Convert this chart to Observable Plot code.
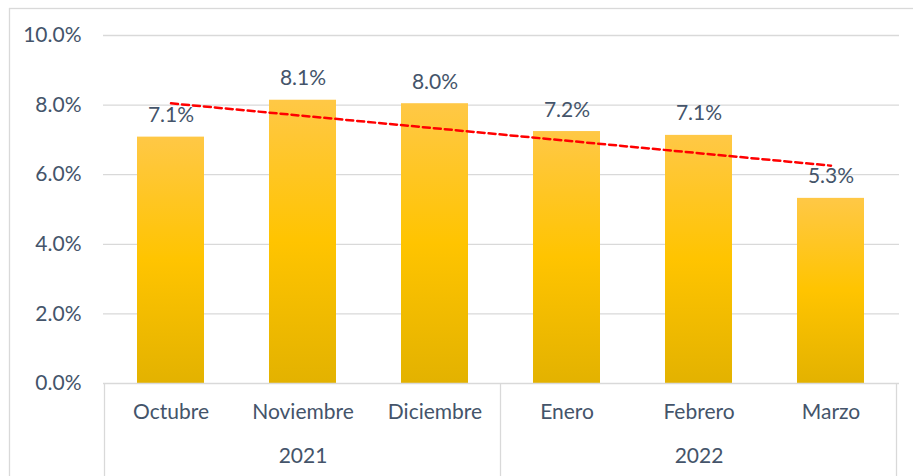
<!DOCTYPE html>
<html>
<head>
<meta charset="utf-8">
<script src="https://cdn.jsdelivr.net/npm/d3@7"></script>
<script src="https://cdn.jsdelivr.net/npm/@observablehq/plot@0.6"></script>
<style>
  html, body { margin: 0; padding: 0; background: #fff; }
  #chart svg { display: block; }
</style>
</head>
<body>
<div id="chart"></div>
<script>
const months = ["Octubre", "Noviembre", "Diciembre", "Enero", "Febrero", "Marzo"];
const years = ["2021", "2021", "2021", "2022", "2022", "2022"];
const values = [7.08, 8.14, 8.04, 7.24, 7.13, 5.32];
const valueLabels = ["7.1%", "8.1%", "8.0%", "7.2%", "7.1%", "5.3%"];
const yearLabels = ["2021", "2022"];
const yearCenters = ["Noviembre", "Febrero"];
const trendMonths = ["Octubre", "Marzo"];
const trendValues = [8.05, 6.26];
const yTicks = [0, 2, 4, 6, 8, 10];

const data = months.map((m, i) => ({month: m, year: years[i], value: values[i], label: valueLabels[i]}));
const trend = trendMonths.map((m, i) => ({month: m, value: trendValues[i]}));
const yearData = yearLabels.map((y, i) => ({year: y, month: yearCenters[i]}));

const FONT = "Lato, 'Open Sans', sans-serif";
const TXT = "#44546A";
const GRID = "#D9D9D9";
const FS = 21;

const plot = Plot.plot({
  width: 913,
  height: 476,
  marginLeft: 103,
  marginRight: 14,
  marginTop: 35,
  marginBottom: 93,
  style: {fontFamily: FONT, background: "#fff", overflow: "visible"},
  x: {domain: months, paddingInner: 0.49, paddingOuter: 0.245, axis: null},
  y: {domain: [0, 10], ticks: yTicks, axis: null},
  marks: [
    Plot.ruleY(yTicks.filter(t => t > 0), {stroke: GRID, strokeWidth: 1.3}),
    Plot.barY(data, {x: "month", y: "value", fill: "url(#goldGrad)"}),
    Plot.ruleY([0], {stroke: GRID, strokeWidth: 1.3}),
    Plot.line(trend, {x: "month", y: "value", stroke: "#FF0000", strokeWidth: 2.5, strokeDasharray: "7,4"}),
    Plot.text(data, {x: "month", y: "value", text: "label", lineAnchor: "bottom", dy: -15, fill: TXT, fontSize: FS}),
    Plot.text(data, {x: "month", y: () => 0, text: "month", dy: 29, lineAnchor: "middle", fill: TXT, fontSize: FS}),
    Plot.text(yearData, {x: "month", y: () => 0, text: "year", dy: 73, lineAnchor: "middle", fill: TXT, fontSize: FS}),
    Plot.axisY({ticks: yTicks, tickSize: 0, tickPadding: 22, label: null, tickFormat: d => d.toFixed(1) + "%", fontSize: FS, fill: TXT, color: TXT})
  ]
});

document.getElementById("chart").appendChild(plot);

const svg = d3.select(plot);
const defs = svg.insert("defs", ":first-child");
const grad = defs.append("linearGradient").attr("id", "goldGrad")
  .attr("x1", 0).attr("y1", 0).attr("x2", 0).attr("y2", 1);
grad.append("stop").attr("offset", "0%").attr("stop-color", "#FFC846");
grad.append("stop").attr("offset", "50%").attr("stop-color", "#FFC400");
grad.append("stop").attr("offset", "100%").attr("stop-color", "#E3B200");

// outer chart border
svg.append("rect").attr("x", 9.5).attr("y", 8.5).attr("width", 960).attr("height", 520)
  .attr("fill", "none").attr("stroke", GRID).attr("stroke-width", 1.3);

// category-group dividers from the x scale
const xs = plot.scale("x");
const ys = plot.scale("y");
const half = (xs.step - xs.bandwidth) / 2;
const y0 = ys.apply(0);
const edges = [
  xs.apply(months[0]) - half,
  xs.apply("Enero") - half,
  xs.apply(months[months.length - 1]) + xs.bandwidth + half
];
edges.forEach(x => {
  svg.append("line").attr("x1", x).attr("x2", x).attr("y1", y0).attr("y2", 476)
    .attr("stroke", GRID).attr("stroke-width", 1.3);
});
</script>
</body>
</html>
